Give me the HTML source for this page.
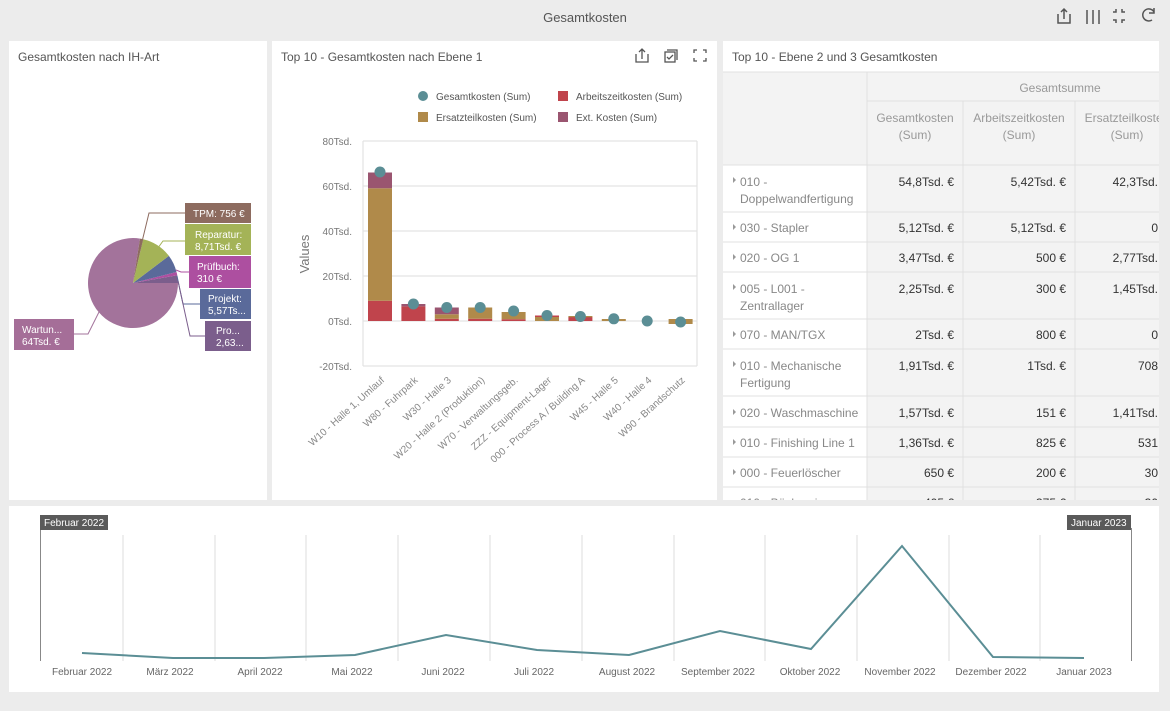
<!DOCTYPE html>
<html><head><meta charset="utf-8"><style>
html,body{margin:0;padding:0;width:1170px;height:711px;overflow:hidden;background:#ececec;font-family:"Liberation Sans",sans-serif;}
svg{display:block}
</style></head><body>
<svg width="1170" height="711" viewBox="0 0 1170 711" xmlns="http://www.w3.org/2000/svg" font-family="Liberation Sans, sans-serif">
<defs><clipPath id="tc"><rect x="723" y="41" width="436" height="459"/></clipPath></defs>
<rect width="1170" height="711" fill="#ececec"/>
<text x="585" y="22" text-anchor="middle" font-size="13" fill="#555">Gesamtkosten</text>
<g stroke="#555" stroke-width="1.5" fill="none">
<path d="M1058 14v9h12v-9M1064 19v-10M1061 12l3-3 3 3"/>
<path d="M1087 10v14M1093 10v14M1099 10v14"/>
<path d="M1113 12h3v-3M1125 12h-3v-3M1113 20h3v3M1125 20h-3v3"/>
<path d="M1152 20a6 6 0 1 1 2-8M1154 8v5h-5"/>
</g>
<rect x="9" y="41" width="258" height="459" fill="#fff"/>
<rect x="272" y="41" width="445" height="459" fill="#fff"/>
<rect x="723" y="41" width="436" height="459" fill="#fff"/>
<rect x="9" y="506" width="1150" height="186" fill="#fff"/>
<text x="18" y="61" font-size="12" fill="#555">Gesamtkosten nach IH-Art</text>
<text x="281" y="61" font-size="12" fill="#555">Top 10 - Gesamtkosten nach Ebene 1</text>
<text x="732" y="61" font-size="12" fill="#555">Top 10 - Ebene 2 und 3 Gesamtkosten</text>
<g stroke="#555" stroke-width="1.3" fill="none">
<path d="M636 54v8h12v-8M642 59v-10M639 52l3-3 3 3"/>
<rect x="665" y="52" width="10" height="10"/><path d="M667 50h10v10M667 57l2 2 4-4"/>
<path d="M694 53v-3h3M706 53v-3h-3M694 58v3h3M706 58v3h-3"/>
</g>
<path d="M133,283 L140,238.6 A45,45 0 1,0 178,283 Z" fill="#a3739b"/>
<path d="M133,283 L178,283 A45,45 0 0,0 177.3,275.2 Z" fill="#7b5e8c"/>
<path d="M133,283 L177.3,275.2 A45,45 0 0,0 176.5,272 Z" fill="#ad4fa0"/>
<path d="M133,283 L176.5,272 A45,45 0 0,0 168.9,255.9 Z" fill="#5a6a9a"/>
<path d="M133,283 L168.9,255.9 A45,45 0 0,0 143.1,239.2 Z" fill="#a4b357"/>
<path d="M133,283 L143.1,239.2 A45,45 0 0,0 140,238.6 Z" fill="#8d6b5f"/>
<g fill="none" stroke-width="1">
<path d="M140 250 L149 213 H185" stroke="#8d6b5f"/>
<path d="M155 252 L163 241 H185" stroke="#a4b357"/>
<path d="M176 270 L181 272 H189" stroke="#ad4fa0"/>
<path d="M177 276 L183 304 H200" stroke="#5a6a9a"/>
<path d="M178 281 L190 336 H205" stroke="#7b5e8c"/>
<path d="M100 310 L88 334 H74" stroke="#a3739b"/>
</g>
<g font-size="10" fill="#fff">
<rect x="185" y="203" width="66" height="20" fill="#8d6b5f"/><text x="193" y="217">TPM: 756 €</text>
<rect x="185" y="224" width="66" height="31" fill="#a4b357"/><text x="195" y="238">Reparatur:</text><text x="195" y="250">8,71Tsd. €</text>
<rect x="189" y="256" width="62" height="32" fill="#ad4fa0"/><text x="197" y="270">Prüfbuch:</text><text x="197" y="282">310 €</text>
<rect x="200" y="289" width="51" height="30" fill="#5a6a9a"/><text x="208" y="302">Projekt:</text><text x="208" y="314">5,57Ts...</text>
<rect x="205" y="321" width="46" height="30" fill="#7b5e8c"/><text x="216" y="334">Pro...</text><text x="216" y="346">2,63...</text>
<rect x="14" y="319" width="60" height="31" fill="#a56e98"/><text x="22" y="333">Wartun...</text><text x="22" y="345">64Tsd. €</text>
</g>
<g font-size="10" fill="#555">
<circle cx="423" cy="96" r="5" fill="#5b8e95"/><text x="436" y="100">Gesamtkosten (Sum)</text>
<rect x="558" y="91" width="10" height="10" fill="#c0444c"/><text x="576" y="100">Arbeitszeitkosten (Sum)</text>
<rect x="418" y="112" width="10" height="10" fill="#b08a4a"/><text x="436" y="121">Ersatzteilkosten (Sum)</text>
<rect x="558" y="112" width="10" height="10" fill="#9a5570"/><text x="576" y="121">Ext. Kosten (Sum)</text>
</g>
<g stroke="#e3e3e3" stroke-width="1.2">
<line x1="363" y1="141" x2="697" y2="141"/><line x1="363" y1="186" x2="697" y2="186"/>
<line x1="363" y1="231" x2="697" y2="231"/><line x1="363" y1="276" x2="697" y2="276"/>
<line x1="363" y1="321" x2="697" y2="321"/><line x1="363" y1="366" x2="697" y2="366"/>
<line x1="363" y1="141" x2="363" y2="366"/><line x1="697" y1="141" x2="697" y2="366"/>
</g>
<g font-size="10" fill="#777" text-anchor="end">
<text x="352" y="145">80Tsd.</text><text x="352" y="190">60Tsd.</text><text x="352" y="235">40Tsd.</text>
<text x="352" y="280">20Tsd.</text><text x="352" y="325">0Tsd.</text><text x="352" y="370">-20Tsd.</text>
</g>
<text x="309" y="254" font-size="13" fill="#777" text-anchor="middle" transform="rotate(-90 309 254)">Values</text>
<g>
<rect x="368" y="300.75" width="24" height="20.25" fill="#c0444c"/>
<rect x="368" y="188.25" width="24" height="112.5" fill="#b08a4a"/>
<rect x="368" y="172.5" width="24" height="15.75" fill="#9a5570"/>
<rect x="401.4" y="306.4" width="24" height="14.6" fill="#c0444c"/>
<rect x="401.4" y="304" width="24" height="2.4" fill="#9a5570"/>
<rect x="434.8" y="318.75" width="24" height="2.25" fill="#c0444c"/>
<rect x="434.8" y="314.25" width="24" height="4.5" fill="#b08a4a"/>
<rect x="434.8" y="307.5" width="24" height="6.75" fill="#9a5570"/>
<rect x="468.2" y="318.75" width="24" height="2.25" fill="#c0444c"/>
<rect x="468.2" y="307.5" width="24" height="11.25" fill="#b08a4a"/>
<rect x="501.6" y="319.2" width="24" height="1.8" fill="#c0444c"/>
<rect x="501.6" y="312" width="24" height="7.2" fill="#b08a4a"/>
<rect x="535" y="316.5" width="24" height="4.5" fill="#b08a4a"/>
<rect x="535" y="315.5" width="24" height="1.5" fill="#c0444c"/>
<rect x="568.4" y="317" width="24" height="4" fill="#c0444c"/>
<rect x="568.4" y="316" width="24" height="1.2" fill="#b08a4a"/>
<rect x="601.8" y="319" width="24" height="2" fill="#b08a4a"/>
<rect x="668.6" y="319" width="24" height="5" fill="#b08a4a"/>
</g>
<g fill="#5b8e95">
<circle cx="380" cy="172" r="5.5"/><circle cx="413.4" cy="304" r="5.5"/><circle cx="446.8" cy="307.5" r="5.5"/>
<circle cx="480.2" cy="307.5" r="5.5"/><circle cx="513.6" cy="311" r="5.5"/><circle cx="547" cy="315.5" r="5.5"/>
<circle cx="580.4" cy="316.5" r="5.5"/><circle cx="613.8" cy="318.8" r="5.5"/><circle cx="647.2" cy="321" r="5.5"/>
<circle cx="680.6" cy="322" r="5.5"/>
</g>
<g font-size="10" fill="#888" text-anchor="end">
<text transform="translate(385 381) rotate(-42)">W10 - Halle 1, Umlauf</text>
<text transform="translate(418.4 381) rotate(-42)">W80 - Fuhrpark</text>
<text transform="translate(451.8 381) rotate(-42)">W30 - Halle 3</text>
<text transform="translate(485.2 381) rotate(-42)">W20 - Halle 2 (Produktion)</text>
<text transform="translate(518.6 381) rotate(-42)">W70 - Verwaltungsgeb.</text>
<text transform="translate(552 381) rotate(-42)">ZZZ - Equipment-Lager</text>
<text transform="translate(585.4 381) rotate(-42)">000 - Process A / Building A</text>
<text transform="translate(618.8 381) rotate(-42)">W45 - Halle 5</text>
<text transform="translate(652.2 381) rotate(-42)">W40 - Halle 4</text>
<text transform="translate(685.6 381) rotate(-42)">W90 - Brandschutz</text>
</g>
<g clip-path="url(#tc)">
<rect x="723" y="72" width="144" height="93" fill="#f3f3f3"/>
<rect x="867" y="72" width="292" height="428" fill="#f3f3f3"/>
<g stroke="#e0e0e0" stroke-width="1">
<line x1="723" y1="72" x2="1159" y2="72"/>
<line x1="867" y1="101" x2="1159" y2="101"/>
<line x1="723" y1="165" x2="1159" y2="165"/>
<line x1="723" y1="212" x2="1159" y2="212"/>
<line x1="723" y1="242" x2="1159" y2="242"/>
<line x1="723" y1="272" x2="1159" y2="272"/>
<line x1="723" y1="319" x2="1159" y2="319"/>
<line x1="723" y1="349" x2="1159" y2="349"/>
<line x1="723" y1="396" x2="1159" y2="396"/>
<line x1="723" y1="427" x2="1159" y2="427"/>
<line x1="723" y1="457" x2="1159" y2="457"/>
<line x1="723" y1="487" x2="1159" y2="487"/>
<line x1="867" y1="72" x2="867" y2="500"/>
<line x1="963" y1="101" x2="963" y2="500"/>
<line x1="1075" y1="101" x2="1075" y2="500"/>
</g>
<g font-size="12" fill="#999" text-anchor="middle">
<text x="1060" y="92">Gesamtsumme</text>
<text x="915" y="122">Gesamtkosten</text><text x="915" y="139">(Sum)</text>
<text x="1019" y="122">Arbeitszeitkosten</text><text x="1019" y="139">(Sum)</text>
<text x="1127" y="122">Ersatzteilkosten</text><text x="1127" y="139">(Sum)</text>
</g>
<g font-size="12" fill="#888">
<text x="740" y="186">010 -</text><text x="740" y="203">Doppelwandfertigung</text>
<text x="740" y="232">030 - Stapler</text>
<text x="740" y="262">020 - OG 1</text>
<text x="740" y="293">005 - L001 -</text><text x="740" y="310">Zentrallager</text>
<text x="740" y="339">070 - MAN/TGX</text>
<text x="740" y="370">010 - Mechanische</text><text x="740" y="387">Fertigung</text>
<text x="740" y="417">020 - Waschmaschine</text>
<text x="740" y="447">010 - Finishing Line 1</text>
<text x="740" y="477">000 - Feuerlöscher</text>
<text x="740" y="507">010 - Bäckerei</text>
</g>
<g fill="#999">
<path d="M733 177l3 3-3 3z"/><path d="M733 224l3 3-3 3z"/><path d="M733 254l3 3-3 3z"/>
<path d="M733 284l3 3-3 3z"/><path d="M733 331l3 3-3 3z"/><path d="M733 361l3 3-3 3z"/>
<path d="M733 409l3 3-3 3z"/><path d="M733 439l3 3-3 3z"/><path d="M733 469l3 3-3 3z"/>
</g>
<g font-size="12" fill="#333" text-anchor="end">
<text x="954" y="186">54,8Tsd. €</text><text x="1066" y="186">5,42Tsd. €</text><text x="1158" y="186">42,3Tsd.</text>
<text x="954" y="232">5,12Tsd. €</text><text x="1066" y="232">5,12Tsd. €</text><text x="1158" y="232">0</text>
<text x="954" y="262">3,47Tsd. €</text><text x="1066" y="262">500 €</text><text x="1158" y="262">2,77Tsd.</text>
<text x="954" y="293">2,25Tsd. €</text><text x="1066" y="293">300 €</text><text x="1158" y="293">1,45Tsd.</text>
<text x="954" y="339">2Tsd. €</text><text x="1066" y="339">800 €</text><text x="1158" y="339">0</text>
<text x="954" y="370">1,91Tsd. €</text><text x="1066" y="370">1Tsd. €</text><text x="1158" y="370">708</text>
<text x="954" y="417">1,57Tsd. €</text><text x="1066" y="417">151 €</text><text x="1158" y="417">1,41Tsd.</text>
<text x="954" y="447">1,36Tsd. €</text><text x="1066" y="447">825 €</text><text x="1158" y="447">531</text>
<text x="954" y="477">650 €</text><text x="1066" y="477">200 €</text><text x="1158" y="477">30</text>
<text x="954" y="507">405 €</text><text x="1066" y="507">375 €</text><text x="1158" y="507">30</text>
</g>
</g>
<g stroke="#dedede" stroke-width="1">
<line x1="123" y1="535" x2="123" y2="661"/><line x1="215" y1="535" x2="215" y2="661"/>
<line x1="306" y1="535" x2="306" y2="661"/><line x1="398" y1="535" x2="398" y2="661"/>
<line x1="490" y1="535" x2="490" y2="661"/><line x1="582" y1="535" x2="582" y2="661"/>
<line x1="674" y1="535" x2="674" y2="661"/><line x1="765" y1="535" x2="765" y2="661"/>
<line x1="857" y1="535" x2="857" y2="661"/><line x1="949" y1="535" x2="949" y2="661"/>
<line x1="1040" y1="535" x2="1040" y2="661"/>
</g>
<line x1="40.5" y1="528" x2="40.5" y2="661" stroke="#888"/>
<line x1="1131.5" y1="528" x2="1131.5" y2="661" stroke="#888"/>
<rect x="40" y="515" width="68" height="15" fill="#5a5a5a"/>
<text x="44" y="526" font-size="10" fill="#fff">Februar 2022</text>
<rect x="1067" y="515" width="64" height="15" fill="#5a5a5a"/>
<text x="1071" y="526" font-size="10" fill="#fff">Januar 2023</text>
<polyline fill="none" stroke="#5b8e95" stroke-width="2" points="82,653 173,658 264,658 355,655 446,635 537,650 629,655 720,631 811,649 902,546 993,657 1084,658"/>
<g font-size="10" fill="#666" text-anchor="middle">
<text x="82" y="675">Februar 2022</text><text x="170" y="675">März 2022</text><text x="260" y="675">April 2022</text>
<text x="352" y="675">Mai 2022</text><text x="443" y="675">Juni 2022</text><text x="534" y="675">Juli 2022</text>
<text x="627" y="675">August 2022</text><text x="718" y="675">September 2022</text><text x="810" y="675">Oktober 2022</text>
<text x="900" y="675">November 2022</text><text x="991" y="675">Dezember 2022</text><text x="1084" y="675">Januar 2023</text>
</g>
</svg>
</body></html>
